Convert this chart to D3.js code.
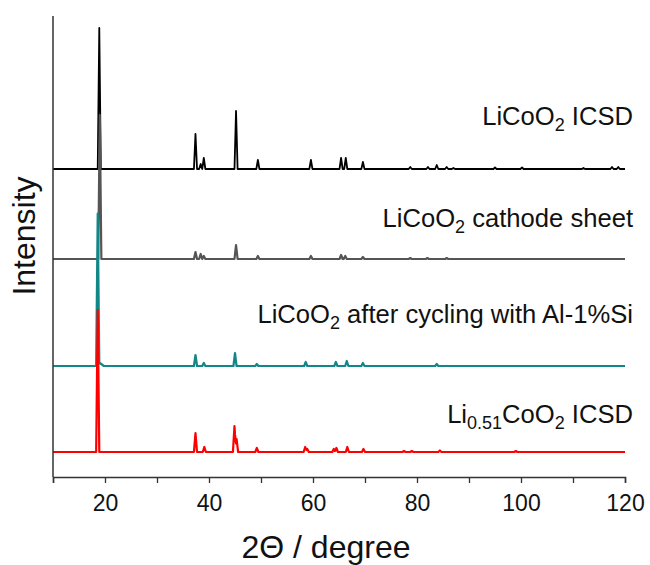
<!DOCTYPE html>
<html>
<head>
<meta charset="utf-8">
<script src="https://cdn.jsdelivr.net/npm/d3@7"></script>
<style>
  body { margin: 0; background: #fff; }
  svg { display: block; font-family: "Liberation Sans", Arial, sans-serif; }
</style>
</head>
<body>
<svg id="chart" width="650" height="565"></svg>
<script>
// peak lists: [2theta, height above own baseline, (optional) half width in deg]
const icsdPeaks = [
  [18.9, 141], [37.4, 35], [38.4, 5], [39.0, 11], [45.2, 58], [49.4, 9],
  [59.6, 9], [65.4, 11], [66.3, 11], [69.6, 7], [78.7, 2], [82.1, 2],
  [83.8, 4], [85.7, 2], [87.0, 1], [95.0, 1.5], [100.2, 1.5], [112.0, 1],
  [117.5, 2], [118.7, 2]
];
const sheetPeaks = [
  [19.0, 144], [37.4, 7], [38.4, 5], [39.0, 3], [45.2, 14], [49.4, 3],
  [59.6, 3], [65.4, 4], [66.2, 3], [69.6, 2], [78.7, 1], [82.0, 1], [85.7, 1]
];
const cycledPeaks = [
  [18.6, 151], [19.0, 3, 0.8], [37.4, 11], [39.0, 3], [45.0, 13], [49.2, 2],
  [58.6, 4], [64.4, 4], [66.5, 5], [69.6, 3], [83.8, 2]
];
const delithPeaks = [
  [18.6, 142], [37.4, 19], [39.1, 5], [44.9, 26], [45.3, 13], [49.2, 4],
  [58.5, 5], [58.9, 3], [64.0, 3], [64.5, 4], [66.6, 5], [69.7, 3],
  [77.5, 1], [79.0, 1], [84.4, 1.5], [99.0, 1]
];

const seriesNames = ["LiCoO2 ICSD", "LiCoO2 cathode sheet", "LiCoO2 after cycling with Al-1%Si", "Li0.51CoO2 ICSD"];
const seriesOffsets = [308, 218, 111, 25];
const seriesColors = ["#000000", "#555555", "#128787", "#ff0000"];
const xTicks = [20, 40, 60, 80, 100, 120];

const svg = d3.select("#chart");
const mLeft = 53, mRight = 625, mTop = 16, mBottom = 477;

const x = d3.scaleLinear().domain([10, 120]).range([mLeft, mRight]);
const y = d3.scaleLinear().domain([0, mBottom - mTop]).range([mBottom, mTop]);

// turn a peak list into a polyline: each peak is a small triangle, overlapping ones add up
function profile(peaks, offset) {
  const defW = 0.3;
  let xs = [10, 120];
  peaks.forEach(p => {
    const w = p[2] || defW;
    xs.push(p[0] - w, p[0], p[0] + w);
  });
  xs = xs.filter(v => v >= 10 && v <= 120).sort((a, b) => a - b);
  return xs.map(t => {
    let v = 0;
    peaks.forEach(p => {
      const w = p[2] || defW;
      const d = Math.abs(t - p[0]);
      if (d < w) v += p[1] * (1 - d / w);
    });
    return [t, v + offset];
  });
}

const line = d3.line().x(d => x(d[0])).y(d => y(d[1]));
const allPeaks = [icsdPeaks, sheetPeaks, cycledPeaks, delithPeaks];

allPeaks.forEach((pk, i) => {
  svg.append("path")
    .attr("d", line(profile(pk, seriesOffsets[i])))
    .attr("fill", "none")
    .attr("stroke", seriesColors[i])
    .attr("stroke-width", i === 0 ? 1.8 : 2.2)
    .attr("stroke-linejoin", "round");
});

// axes: left and bottom lines only
svg.append("line")
  .attr("x1", mLeft).attr("x2", mLeft).attr("y1", mTop).attr("y2", mBottom)
  .attr("stroke", "#333").attr("stroke-width", 1.5);

const xAxis = d3.axisBottom(x)
  .tickValues(d3.range(10, 121, 10))
  .tickSize(6)
  .tickFormat(d => xTicks.includes(d) ? d : "");

const gx = svg.append("g")
  .attr("transform", `translate(0,${mBottom})`)
  .call(xAxis);
gx.select(".domain").attr("stroke", "#333").attr("stroke-width", 1.5);
gx.selectAll(".tick line").attr("stroke", "#333").attr("stroke-width", 1.3);
gx.selectAll(".tick text")
  .attr("font-size", 23)
  .attr("font-family", "Liberation Sans, Arial, sans-serif")
  .attr("fill", "#111")
  .attr("dy", "1.1em");

svg.append("text")
  .attr("x", 326)
  .attr("y", 558)
  .attr("text-anchor", "middle")
  .attr("font-size", 32)
  .attr("fill", "#111")
  .text("2Θ / degree");

svg.append("text")
  .attr("transform", "translate(35,236) rotate(-90)")
  .attr("text-anchor", "middle")
  .attr("font-size", 32)
  .attr("fill", "#111")
  .text("Intensity");

// series labels with subscripts
const labelY = [125, 227, 323, 423];
const labelParts = [
  [["LiCoO", 0], ["2", 1], [" ICSD", 0]],
  [["LiCoO", 0], ["2", 1], [" cathode sheet", 0]],
  [["LiCoO", 0], ["2", 1], [" after cycling with Al-1%Si", 0]],
  [["Li", 0], ["0.51", 1], ["CoO", 0], ["2", 1], [" ICSD", 0]]
];

labelParts.forEach((parts, i) => {
  const t = svg.append("text")
    .attr("x", 633)
    .attr("y", labelY[i])
    .attr("text-anchor", "end")
    .attr("font-size", 25.6)
    .attr("fill", "#111")
    .attr("xml:space", "preserve");
  parts.forEach((p, j) => {
    const prevSub = j > 0 && parts[j - 1][1];
    const ts = t.append("tspan").text(p[0]);
    if (p[1]) ts.attr("font-size", 18).attr("dy", 6);
    else if (prevSub) ts.attr("dy", -6);
  });
});
</script>
</body>
</html>
